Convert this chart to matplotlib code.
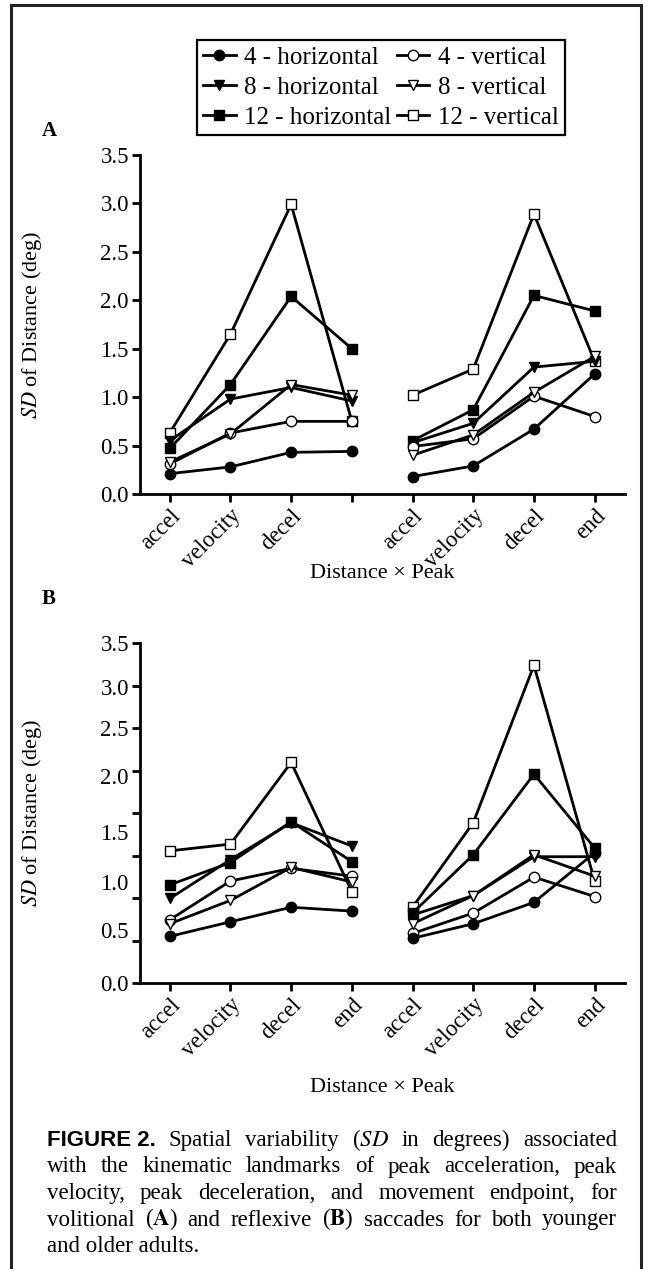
import matplotlib
matplotlib.use('Agg')
import matplotlib.pyplot as plt
from matplotlib.lines import Line2D
from matplotlib.patches import Rectangle
import numpy as np

plt.rcParams['font.family'] = 'Liberation Serif'
plt.rcParams['mathtext.fontset'] = 'stix'

W, H = 652, 1269

# landmarks, each panel has two groups of four
labels_a = ['accel', 'velocity', 'decel', '', 'accel', 'velocity', 'decel', 'end']
labels_b = ['accel', 'velocity', 'decel', 'end', 'accel', 'velocity', 'decel', 'end']
series = ['4 - horizontal', '8 - horizontal', '12 - horizontal',
          '4 - vertical', '8 - vertical', '12 - vertical']

# panel A (volitional): SD of distance (deg), left group then right group
a_4h = [0.21, 0.28, 0.43, 0.44, 0.18, 0.29, 0.67, 1.24]
a_8h = [0.55, 0.98, 1.10, 0.96, 0.53, 0.73, 1.31, 1.37]
a_12h = [0.47, 1.13, 2.04, 1.50, 0.55, 0.87, 2.05, 1.89]
a_4v = [0.31, 0.63, 0.75, 0.75, 0.49, 0.57, 1.01, 0.80]
a_8v = [0.33, 0.62, 1.13, 1.02, 0.40, 0.61, 1.05, 1.42]
a_12v = [0.63, 1.65, 2.99, 0.75, 1.02, 1.29, 2.89, 1.37]

# panel B (reflexive)
b_4h = [0.48, 0.63, 0.78, 0.74, 0.46, 0.61, 0.83, 1.34]
b_8h = [0.87, 1.27, 1.65, 1.41, 0.70, 0.90, 1.30, 1.30]
b_12h = [1.01, 1.24, 1.66, 1.25, 0.72, 1.32, 2.15, 1.39]
b_4v = [0.65, 1.05, 1.18, 1.10, 0.51, 0.72, 1.09, 0.89]
b_8v = [0.61, 0.85, 1.19, 1.04, 0.61, 0.90, 1.32, 1.10]
b_12v = [1.36, 1.43, 2.27, 0.94, 0.78, 1.65, 3.27, 1.05]

# panel B axis in the original has 9 tick marks but 8 labels, placed off the marks
b_tick_labels = ['0.0', '0.5', '1.0', '1.5', '2.0', '2.5', '3.0', '3.5']
b_label_pos = [0.001, 0.55, 1.04, 1.55, 2.13, 2.62, 3.05, 3.499]

markers = {'4': ('o', 7.5), '8': ('v', 7.5), '12': ('s', 6.8)}


def style(name):
    n = name.split(' ')[0]
    m, ms = markers[n]
    face = 'black' if 'horizontal' in name else 'white'
    return dict(color='black', lw=2.0, marker=m, ms=ms, mfc=face, mec='black', mew=1.0)


def draw_panel(ax, data, xlabels, xpad):
    x = np.arange(8)
    for name, vals in data:
        kw = style(name)
        ax.plot(x[:4], vals[:4], **kw)
        ax.plot(x[4:], vals[4:], **kw)
    ax.set_xlim(-0.49, 7.5)
    ax.set_ylim(0, 3.5)
    ax.set_xticks(x)
    ax.set_xticklabels(xlabels, rotation=45, ha='right', rotation_mode='anchor', fontsize=16.5)
    for s in ['top', 'right']:
        ax.spines[s].set_visible(False)
    for s in ['left', 'bottom']:
        ax.spines[s].set_linewidth(2)
    ax.tick_params(width=2, length=6, labelsize=16.5, pad=2)
    ax.set_xlabel('Distance \u00d7 Peak', fontsize=16, labelpad=xpad)
    ax.set_ylabel('$\\mathit{SD}$ of Distance (deg)', fontsize=16)
    ax.yaxis.set_label_coords(-0.198, 0.5)


fig = plt.figure(figsize=(W / 100, H / 100), dpi=100)

axA = fig.add_axes([140 / W, 1 - 494 / H, 485 / W, 339 / H])
draw_panel(axA, [('12 - vertical', a_12v), ('12 - horizontal', a_12h),
                 ('8 - horizontal', a_8h), ('4 - vertical', a_4v),
                 ('8 - vertical', a_8v), ('4 - horizontal', a_4h)], labels_a, -6)
axA.set_yticks(np.arange(0, 3.51, 0.5))
axA.set_yticklabels(['%.1f' % v for v in np.arange(0, 3.51, 0.5)])

axB = fig.add_axes([140 / W, 1 - 983 / H, 485 / W, 340 / H])
draw_panel(axB, [('12 - vertical', b_12v), ('12 - horizontal', b_12h),
                 ('8 - horizontal', b_8h), ('4 - vertical', b_4v),
                 ('8 - vertical', b_8v), ('4 - horizontal', b_4h)], labels_b, 12)
axB.set_yticks(np.linspace(0, 3.5, 9))
axB.set_yticklabels([''] * 9)
axB.set_yticks(b_label_pos, b_tick_labels, minor=True)
axB.tick_params(axis='y', which='minor', length=0, labelsize=16.5, pad=8)

fig.text(42 / W, 1 - 136 / H, 'A', fontsize=15, fontweight='bold')
fig.text(42 / W, 1 - 604 / H, 'B', fontsize=15, fontweight='bold')

handles = [Line2D([], [], **style(n)) for n in series]
leg = fig.legend(handles, series, ncol=2, loc='upper left',
                 bbox_to_anchor=(197 / W, 1 - 40 / H), frameon=True, fancybox=False,
                 edgecolor='black', framealpha=1, fontsize=18, handlelength=1.3,
                 handletextpad=0.35, columnspacing=0.2, labelspacing=0.3,
                 borderpad=0.25, borderaxespad=0)
leg.get_frame().set_linewidth(1.6)

fig.patches.append(Rectangle((11 / W, -0.01), 630 / W, 1.01 - 5 / H,
                             transform=fig.transFigure, fill=False, lw=2.2, ec='#222222'))

# caption, justified line by line
serif = dict(fontsize=16.5, family='Liberation Serif')
cap_lines = [
    [('FIGURE 2.', dict(fontsize=16, family='Liberation Sans', fontweight='bold'))]
    + [(w, serif) for w in 'Spatial variability ($\\mathit{SD}$ in degrees) associated'.split(' ')],
    [(w, serif) for w in 'with the kinematic landmarks of peak acceleration, peak'.split(' ')],
    [(w, serif) for w in 'velocity, peak deceleration, and movement endpoint, for'.split(' ')],
    [(w, serif) for w in 'volitional ($\\mathbf{A}$) and reflexive ($\\mathbf{B}$) saccades for both younger'.split(' ')],
]
x0, x1 = 47 / W, 617 / W
y = 1 - 1146 / H
dy = 26.5 / H
renderer = fig.canvas.get_renderer()
for line in cap_lines:
    texts = [fig.text(0, y, t, va='baseline', **kw) for t, kw in line]
    widths = [t.get_window_extent(renderer).width / fig.bbox.width for t in texts]
    gap = (x1 - x0 - sum(widths)) / (len(texts) - 1)
    xx = x0
    for t, w in zip(texts, widths):
        t.set_x(xx)
        xx += w + gap
    y -= dy
fig.text(x0, y, 'and older adults.', va='baseline', **serif)

fig.savefig('out.png', dpi=100)
